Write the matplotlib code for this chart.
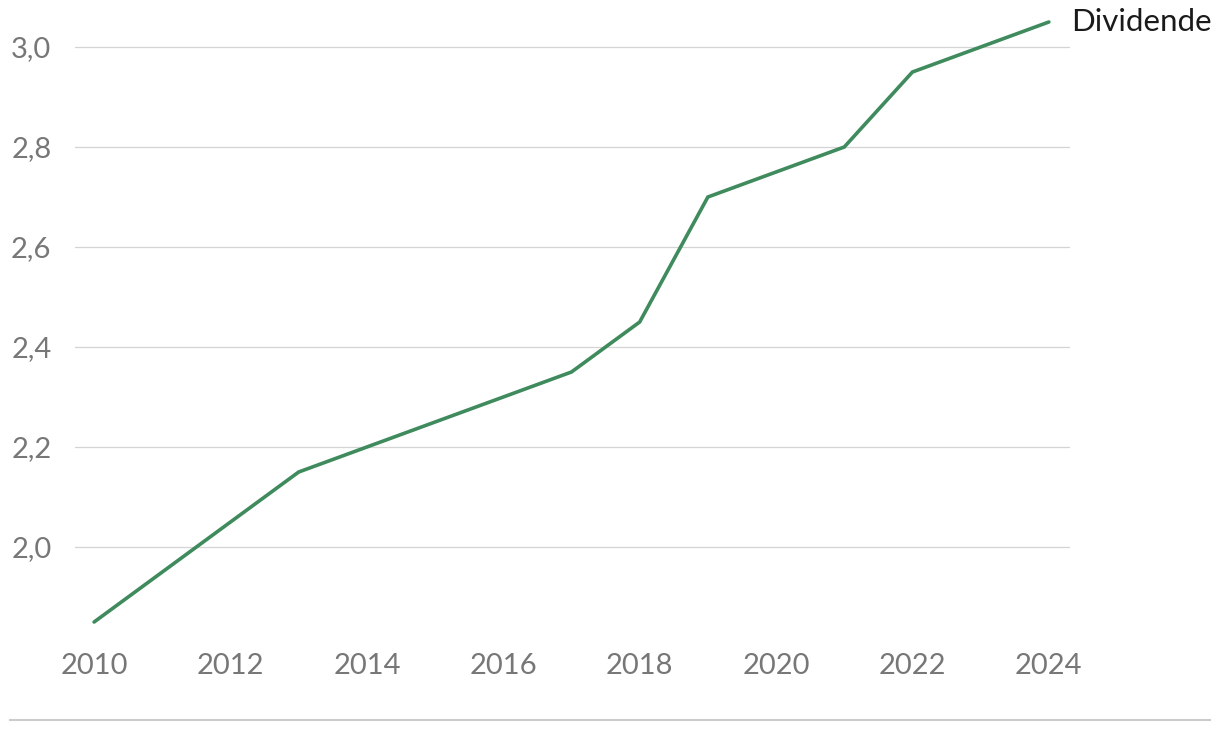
import matplotlib
matplotlib.use("Agg")
import matplotlib.pyplot as plt
from matplotlib.lines import Line2D

years = [2010, 2011, 2012, 2013, 2014, 2015, 2016, 2017, 2018, 2019, 2020, 2021, 2022, 2023, 2024]
dividende = [1.85, 1.95, 2.05, 2.15, 2.20, 2.25, 2.30, 2.35, 2.45, 2.70, 2.75, 2.80, 2.95, 3.00, 3.05]
series_label = "Dividende"
x_ticks = [2010, 2012, 2014, 2016, 2018, 2020, 2022, 2024]
y_ticks = [2.0, 2.2, 2.4, 2.6, 2.8, 3.0]

plt.rcParams['font.family'] = ['Lato', 'DejaVu Sans']

W, H = 1220, 732
fig = plt.figure(figsize=(W / 100, H / 100), dpi=100)
left, right, top, bottom = 75, 1070, 15, 640
ax = fig.add_axes([left / W, 1 - bottom / H, (right - left) / W, (bottom - top) / H])

ax.plot(years, dividende, color="#3f8b5d", lw=2.6, solid_capstyle="round", solid_joinstyle="miter", zorder=3)
ax.set_xlim(2009.72, 2024.31)
ax.set_ylim(1.814, 3.064)
ax.set_xticks(x_ticks)
ax.set_xticklabels([str(t) for t in x_ticks])
ax.set_yticks(y_ticks)
ax.set_yticklabels([f"{t:.1f}".replace(".", ",") for t in y_ticks])
ax.grid(axis="y", color="#d4d4d4", lw=0.9)
ax.set_axisbelow(True)
for s in ax.spines.values():
    s.set_visible(False)
ax.tick_params(length=0, labelsize=21, labelcolor="#777777")
ax.tick_params(axis="y", pad=17)
ax.tick_params(axis="x", pad=9)

ax.annotate(series_label, xy=(years[-1], dividende[-1]), xytext=(16, 0), textcoords="offset points",
            fontsize=22.5, color="#1a1a1a", va="center", ha="left", annotation_clip=False)

fig.add_artist(Line2D([10 / W, 1210 / W], [1 - 720 / H, 1 - 720 / H], color="#cccccc", lw=1.5, transform=fig.transFigure))

fig.savefig("out.png", dpi=100)
